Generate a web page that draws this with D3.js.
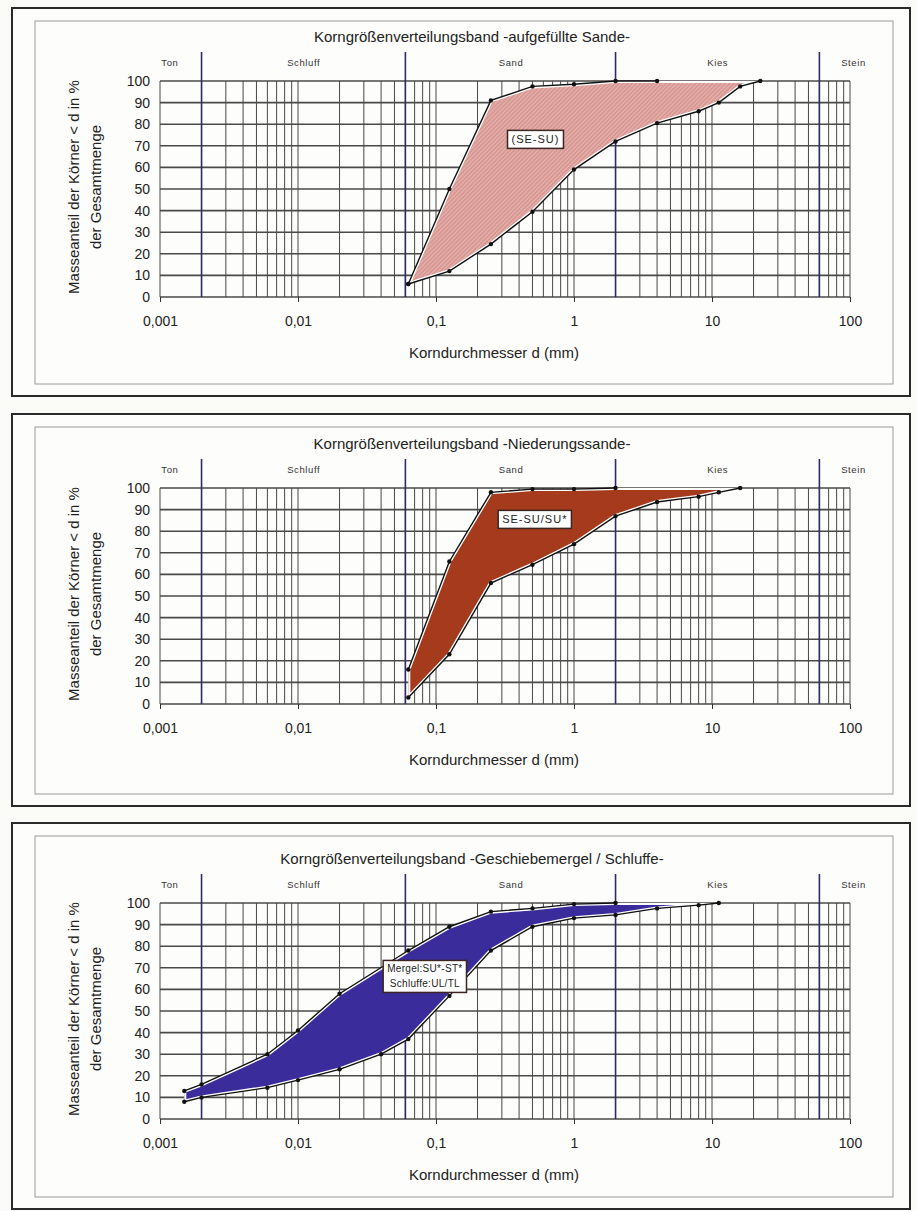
<!DOCTYPE html>
<html>
<head>
<meta charset="utf-8">
<script src="https://cdn.jsdelivr.net/npm/d3@7"></script>
<style>
  body { margin: 0; background: #fbfbf8; }
  svg { display: block; font-family: "Liberation Sans", Arial, sans-serif; }
</style>
</head>
<body>
<div id="chart"></div>
<script>
// ---- data ----
const xTickValues = [0.001, 0.01, 0.1, 1, 10, 100];
const xTickLabels = ["0,001", "0,01", "0,1", "1", "10", "100"];
const yTickValues = [0, 10, 20, 30, 40, 50, 60, 70, 80, 90, 100];

const regionBounds = [0.002, 0.06, 2, 60];
const regionNames = ["Ton", "Schluff", "Sand", "Kies", "Stein"];
const regionLabelD = [0.00118, 0.011, 0.35, 11, 106];

const titles = [
  "Korngrößenverteilungsband -aufgefüllte Sande-",
  "Korngrößenverteilungsband -Niederungssande-",
  "Korngrößenverteilungsband -Geschiebemergel / Schluffe-"
];
const bandLabels = [["(SE-SU)"], ["SE-SU/SU*"], ["Mergel:SU*-ST*", "Schluffe:UL/TL"]];
const bandLabelD = [0.526, 0.52, 0.083];
const bandLabelP = [72.9, 85.4, 66];

// aufgefüllte Sande
const sandeUpperD = [0.063, 0.125, 0.25, 0.5, 1, 2, 4];
const sandeUpperP = [6, 50, 91, 97.5, 98.5, 100, 100];
const sandeLowerD = [0.063, 0.125, 0.25, 0.5, 1, 2, 4, 8, 11.2, 16, 22.4];
const sandeLowerP = [6, 12, 24.5, 39.5, 59, 72, 80.5, 86, 90, 97.5, 100];

// Niederungssande
const niedUpperD = [0.063, 0.125, 0.25, 0.5, 1, 2];
const niedUpperP = [16, 66, 98, 99.5, 99.5, 100];
const niedLowerD = [0.063, 0.125, 0.25, 0.5, 1, 2, 4, 8, 11.2, 16];
const niedLowerP = [3, 23, 56, 64.5, 74, 87, 93.5, 96, 98, 100];

// Geschiebemergel / Schluffe
const mergUpperD = [0.0015, 0.002, 0.006, 0.01, 0.02, 0.063, 0.125, 0.25, 0.5, 1, 2];
const mergUpperP = [13, 16, 30, 41, 58, 78, 89, 96, 97.5, 99.5, 100];
const mergLowerD = [0.0015, 0.002, 0.006, 0.01, 0.02, 0.04, 0.063, 0.125, 0.25, 0.5, 1, 2, 4, 8, 11.2];
const mergLowerP = [8, 10, 14.5, 18, 23, 30, 37, 57, 78, 89, 93, 94.5, 97.5, 99, 100];

const zipPts = (ds, ps) => ds.map((d, i) => [d, ps[i]]);
const bands = [
  { upper: zipPts(sandeUpperD, sandeUpperP), lower: zipPts(sandeLowerD, sandeLowerP), fill: "url(#hatch)" },
  { upper: zipPts(niedUpperD, niedUpperP), lower: zipPts(niedLowerD, niedLowerP), fill: "#a53a1d" },
  { upper: zipPts(mergUpperD, mergUpperP), lower: zipPts(mergLowerD, mergLowerP), fill: "#3b2c9c" }
];

// ---- layout ----
const W = 917, H = 1211;
const frameTop = [8, 414, 823], frameBot = [396, 806, 1209];
const plotTop = [81, 488, 903];
const plotH = 216, plotL = 160, plotR = 850;

const svg = d3.select('#chart').append('svg').attr('width', W).attr('height', H);

const defs = svg.append('defs');
const pat = defs.append('pattern').attr('id', 'hatch')
  .attr('patternUnits', 'userSpaceOnUse').attr('width', 3).attr('height', 3)
  .attr('patternTransform', 'rotate(45)');
pat.append('rect').attr('width', 3).attr('height', 3).attr('fill', '#d99893');
pat.append('line').attr('x1', 0).attr('y1', 0).attr('x2', 0).attr('y2', 3)
  .attr('stroke', '#f3d9d5').attr('stroke-width', 0.9);

const x = d3.scaleLog().domain([0.001, 100]).range([plotL, plotR]);

bands.forEach((band, k) => {
  const top = plotTop[k], bot = top + plotH;
  const y = d3.scaleLinear().domain([0, 100]).range([bot, top]);
  const g = svg.append('g');

  //====[ frames ]====//
  g.append('rect').attr('x', 12).attr('y', frameTop[k])
    .attr('width', 898).attr('height', frameBot[k] - frameTop[k])
    .attr('fill', '#fdfdfb').attr('stroke', '#2a2a2a').attr('stroke-width', 2);
  g.append('rect').attr('x', 35).attr('y', frameTop[k] + 13)
    .attr('width', 858).attr('height', frameBot[k] - frameTop[k] - 25)
    .attr('fill', 'none').attr('stroke', '#9a9a9a').attr('stroke-width', 1);

  //====[ title ]====//
  g.append('text').attr('x', 472).attr('y', top - 44).attr('dy', '0.35em')
    .attr('text-anchor', 'middle').attr('font-size', 15).attr('fill', '#222')
    .text(titles[k]);

  //====[ grid ]====//
  g.selectAll('line.vgrid').data(x.ticks()).enter().append('line')
    .attr('x1', d => x(d)).attr('x2', d => x(d)).attr('y1', top).attr('y2', bot)
    .attr('stroke', '#333').attr('stroke-width', 0.9);
  g.selectAll('line.hgrid').data(yTickValues).enter().append('line')
    .attr('x1', plotL).attr('x2', plotR).attr('y1', d => y(d)).attr('y2', d => y(d))
    .attr('stroke', '#4a4a4a').attr('stroke-width', 1.6);

  //====[ soil regions ]====//
  g.selectAll('line.region').data(regionBounds).enter().append('line')
    .attr('x1', d => x(d)).attr('x2', d => x(d)).attr('y1', top - 29).attr('y2', bot)
    .attr('stroke', '#2d2b6e').attr('stroke-width', 1.6);
  g.selectAll('text.region').data(regionNames).enter().append('text')
    .attr('x', (d, i) => x(regionLabelD[i])).attr('y', top - 18).attr('dy', '0.35em')
    .attr('text-anchor', 'middle').attr('font-size', 9.5).attr('letter-spacing', 0.6)
    .attr('font-family', '"Liberation Sans Narrow", "Liberation Sans", sans-serif')
    .attr('fill', '#333').text(d => d);

  //====[ axes ]====//
  const xAxis = g.append('g').attr('transform', 'translate(0,' + bot + ')')
    .call(d3.axisBottom(x).tickValues(xTickValues).tickFormat((d, i) => xTickLabels[i])
      .tickSizeInner(5).tickSizeOuter(0).tickPadding(14));
  xAxis.select('.domain').remove();
  xAxis.selectAll('line').attr('stroke', '#333');
  xAxis.selectAll('text').attr('font-size', 14).attr('fill', '#222')
    .attr('font-family', '"Liberation Sans", Arial, sans-serif');

  const yAxis = g.append('g').attr('transform', 'translate(' + plotL + ',0)')
    .call(d3.axisLeft(y).tickValues(yTickValues).tickSize(0).tickPadding(10));
  yAxis.select('.domain').remove();
  yAxis.selectAll('text').attr('font-size', 14).attr('fill', '#222')
    .attr('font-family', '"Liberation Sans", Arial, sans-serif');

  g.append('text').attr('x', (plotL + plotR) / 2 - 11).attr('y', bot + 56).attr('dy', '0.35em')
    .attr('text-anchor', 'middle').attr('font-size', 15).attr('fill', '#222')
    .text('Korndurchmesser d (mm)');

  const yl = g.append('text').attr('transform', 'translate(74,' + (top + 106) + ') rotate(-90)')
    .attr('text-anchor', 'middle').attr('font-size', 15).attr('fill', '#222');
  yl.append('tspan').attr('x', 0).attr('dy', '0.35em').text('Masseanteil der Körner < d in %');
  yl.append('tspan').attr('x', 0).attr('dy', '1.45em').text('der Gesamtmenge');

  //====[ band ]====//
  const line = d3.line().x(d => x(d[0])).y(d => y(d[1]));
  const poly = band.upper.concat(band.lower.slice().reverse());
  const clipId = 'clip' + k;
  defs.append('clipPath').attr('id', clipId).append('path').attr('d', line(poly) + 'Z');

  g.append('path').attr('d', line(poly) + 'Z').attr('fill', band.fill);
  g.append('path').attr('d', line(poly) + 'Z').attr('fill', 'none')
    .attr('stroke', '#fff').attr('stroke-width', 4).attr('clip-path', 'url(#' + clipId + ')');

  [band.upper, band.lower].forEach(curve => {
    g.append('path').datum(curve).attr('d', line).attr('fill', 'none')
      .attr('stroke', '#111').attr('stroke-width', 1.4);
    g.selectAll(null).data(curve).enter().append('circle')
      .attr('cx', d => x(d[0])).attr('cy', d => y(d[1])).attr('r', 2.2).attr('fill', '#111');
  });

  //====[ band label ]====//
  const lines = bandLabels[k];
  const lx = x(bandLabelD[k]), ly = y(bandLabelP[k]);
  const lg = g.append('g').attr('transform', 'translate(' + lx + ',' + ly + ')');
  const tt = lg.append('text').attr('text-anchor', 'middle')
    .attr('font-size', lines.length > 1 ? 10 : 11)
    .attr('letter-spacing', lines.length > 1 ? 0.3 : 1).attr('fill', '#222')
    .attr('font-family', '"Liberation Sans Narrow", "Liberation Sans", sans-serif');
  lines.forEach((s, i) => {
    tt.append('tspan').attr('x', 0).attr('y', (i - (lines.length - 1) / 2) * 15).attr('dy', '0.35em').text(s);
  });
  const bb = tt.node().getBBox();
  lg.insert('rect', 'text').attr('x', bb.x - 4).attr('y', bb.y - 3)
    .attr('width', bb.width + 8).attr('height', bb.height + 6)
    .attr('fill', '#fff').attr('stroke', '#3a2520').attr('stroke-width', 1.5);
});
</script>
</body>
</html>
